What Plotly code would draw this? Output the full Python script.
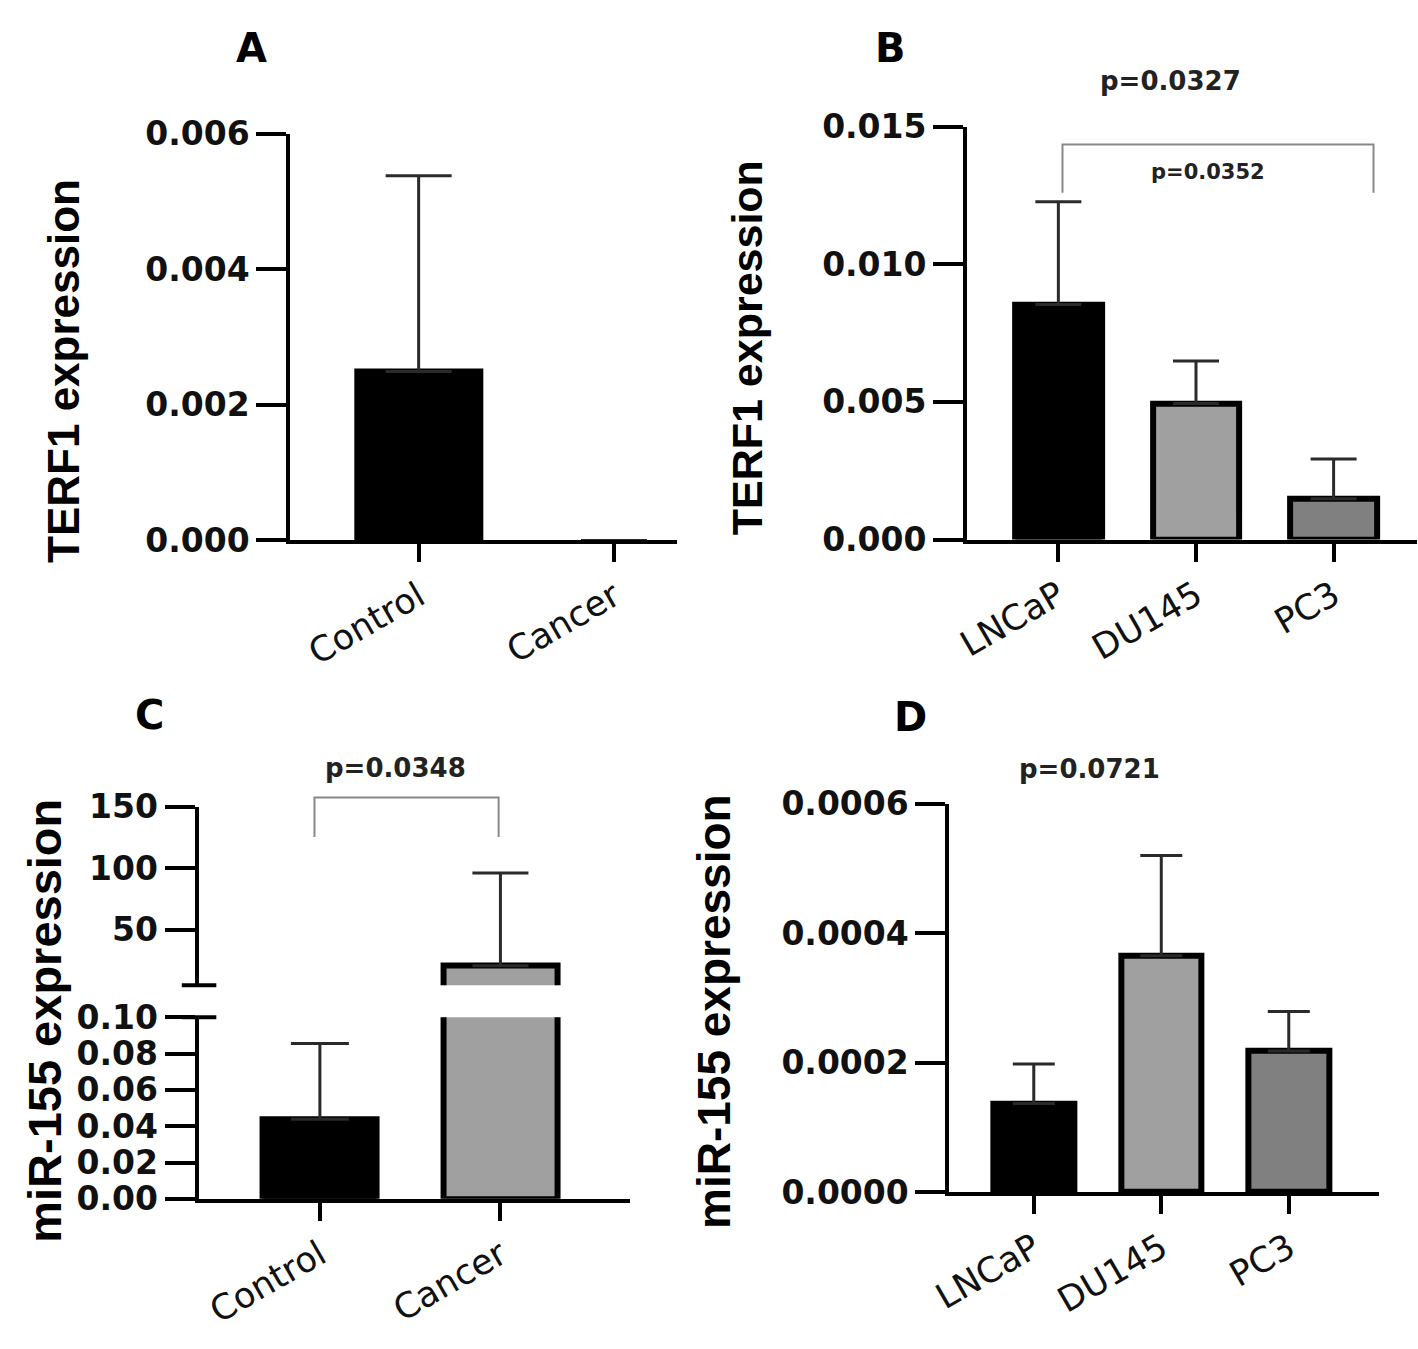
import plotly.graph_objects as go

W, H = 1418, 1349

# ---------------- data ----------------
groups_patients = ["Control", "Cancer"]
cell_lines = ["LNCaP", "DU145", "PC3"]

terf1_patients = [0.00249, 0.0]
terf1_patients_sd = [0.00289, 0.0]

terf1_cells = [0.00854, 0.00494, 0.00148]
terf1_cells_sd = [0.00374, 0.00155, 0.00145]

mir155_patients = [0.0439, 20.8]
mir155_patients_sd = [0.0417, 75.2]

mir155_cells = [0.000137, 0.000365, 0.000218]
mir155_cells_sd = [0.000061, 0.000155, 0.000061]

colors_patients = ["#000000", "#a0a0a0"]
colors_cells = ["#000000", "#a0a0a0", "#808080"]

panel_letters = ["A", "B", "C", "D"]
pvalues = ["p=0.0327", "p=0.0352", "p=0.0348", "p=0.0721"]
ytitles = ["TERF1 expression", "TERF1 expression", "miR-155 expression", "miR-155 expression"]


def fx(px):
    return px / W


def fy(py):
    return 1 - py / H


TICK_FONT_Y = dict(family="DejaVu Sans", size=33, color="#111", weight="bold")
TICK_FONT_X = dict(family="DejaVu Sans", size=35, color="#111")
BAR_W = 0.63


def bar(x, y, err, colors, cap, xa, ya, lw=None):
    return go.Bar(
        x=x, y=y, width=BAR_W,
        marker=dict(color=colors, line=dict(color="#000", width=lw if lw else 6)),
        error_y=dict(type="data", array=err, arrayminus=[0] * len(err), symmetric=False,
                     color="#2a2a2a", thickness=3, width=cap),
        xaxis=xa, yaxis=ya, showlegend=False, hoverinfo="skip",
    )


fig = go.Figure()
fig.add_trace(bar(groups_patients, terf1_patients, terf1_patients_sd, colors_patients, 33, "x", "y", lw=[6, 0]))
fig.add_trace(bar(cell_lines, terf1_cells, terf1_cells_sd, colors_cells, 23, "x2", "y2"))
fig.add_trace(bar(groups_patients, mir155_patients, mir155_patients_sd, colors_patients, 29, "x3", "y3"))
fig.add_trace(bar(groups_patients, mir155_patients, mir155_patients_sd, colors_patients, 28, "x4", "y4"))
fig.add_trace(bar(cell_lines, mir155_cells, mir155_cells_sd, colors_cells, 21, "x5", "y5"))


def xax(d0, d1, rng, cats, anchor, visible=True):
    return dict(
        domain=[fx(d0), fx(d1)], range=rng, anchor=anchor,
        type="category", categoryorder="array", categoryarray=cats,
        showline=visible, linecolor="#000", linewidth=4,
        ticks="outside" if visible else "", ticklen=18, tickwidth=4, tickcolor="#000",
        showticklabels=visible, tickangle=-30, tickfont=TICK_FONT_X,
        showgrid=False, zeroline=False, fixedrange=True,
    )


def yax(top, bottom, rng, anchor, **kw):
    d = dict(
        domain=[fy(bottom), fy(top)], range=rng, anchor=anchor,
        showline=True, linecolor="#000", linewidth=4,
        ticks="outside", ticklen=30, tickwidth=4, tickcolor="#000",
        tickfont=TICK_FONT_Y, showgrid=False, zeroline=False, fixedrange=True,
    )
    d.update(kw)
    return d


fig.update_layout(
    width=W, height=H, margin=dict(l=0, r=0, t=0, b=0),
    paper_bgcolor="white", plot_bgcolor="white", bargap=0,
    xaxis=xax(275, 667, [-0.657, 1.323], groups_patients, "y"),
    yaxis=yax(118, 537, [0, 0.006], "x", tickvals=[0, 0.002, 0.004, 0.006], tickformat=".3f"),
    xaxis2=xax(961, 1417, [-0.663, 2.606], cell_lines, "y2"),
    yaxis2=yax(111, 536, [0, 0.015], "x2", tickvals=[0, 0.005, 0.010, 0.015], tickformat=".3f"),
    xaxis3=xax(182, 619, [-0.672, 1.716], groups_patients, "y3"),
    yaxis3=yax(1028, 1215, [0, 0.1], "x3", tickvals=[0, 0.02, 0.04, 0.06, 0.08, 0.10], tickformat=".2f"),
    xaxis4=xax(182, 619, [-0.672, 1.716], groups_patients, "y4", visible=False),
    yaxis4=yax(811, 995, [5, 150], "x4", tickvals=[50, 100, 150], tickformat="d"),
    xaxis5=xax(943, 1378, [-0.662, 2.704], cell_lines, "y5"),
    yaxis5=yax(808, 1208, [0, 0.0006], "x5", tickvals=[0, 0.0002, 0.0004, 0.0006], tickformat=".4f"),
)

shapes = []
# broken-axis marks (panel C)
shapes.append(dict(type="line", xref="paper", yref="y4 domain", x0=fx(165), x1=fx(200), y0=0, y1=0,
                   line=dict(color="#000", width=4)))
shapes.append(dict(type="line", xref="paper", yref="y3 domain", x0=fx(165), x1=fx(200), y0=1, y1=1,
                   line=dict(color="#000", width=4)))
# bracket panel B (LNCaP vs PC3)
shapes.append(dict(type="path", xref="x2", yref="y2",
                   path="M 0.03,0.0126 L 0.03,0.01436 L 2.29,0.01436 L 2.29,0.0126",
                   line=dict(color="#888", width=2)))
# bracket panel C (Control vs Cancer)
shapes.append(dict(type="path", xref="x3", yref="y4 domain",
                   path="M -0.03,0.83 L -0.03,1.05 L 0.99,1.05 L 0.99,0.83",
                   line=dict(color="#888", width=2)))
fig.update_layout(shapes=shapes)

ann = []
letter_pos = [(236, 30), (883, 30), (132, 717), (904, 719)]
for t, (px, py) in zip(panel_letters, letter_pos):
    ann.append(dict(text=t, x=fx(px), y=fy(py), xref="paper", yref="paper", showarrow=False,
                    xanchor="center", yanchor="middle",
                    font=dict(family="DejaVu Sans", size=40, color="#000", weight="bold")))

pv_pos = [(1167, 64, 26), (1205, 158, 21), (382, 771, 26), (1085, 772, 26)]
for t, (px, py, sz) in zip(pvalues, pv_pos):
    ann.append(dict(text=t, x=fx(px), y=fy(py), xref="paper", yref="paper", showarrow=False,
                    xanchor="center", yanchor="middle",
                    font=dict(family="DejaVu Sans", size=sz, color="#222", weight="bold")))

yt_pos = [(45, 362, 44), (738, 339, 43), (26, 1032, 47), (705, 1022, 46)]
for t, (px, py, sz) in zip(ytitles, yt_pos):
    ann.append(dict(text=t, x=fx(px), y=fy(py), xref="paper", yref="paper", showarrow=False,
                    xanchor="center", yanchor="middle", textangle=-90,
                    font=dict(family="Liberation Sans", size=sz, color="#000", weight="bold")))
fig.update_layout(annotations=ann)

fig.write_html("out.html", config={"displayModeBar": False},
               post_script="document.body.style.margin='0';document.body.style.overflow='hidden';")
